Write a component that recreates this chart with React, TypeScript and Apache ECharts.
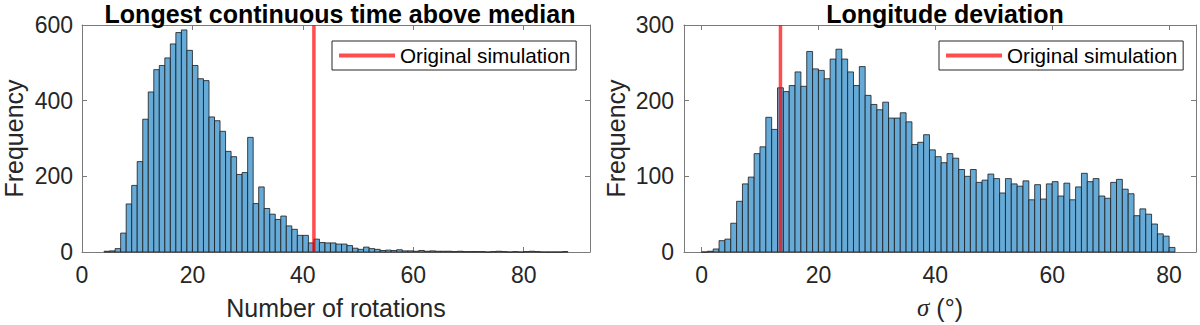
import React, { useEffect, useRef } from "react";
import * as echarts from "echarts";

// Left histogram: bins of width 1 starting at leftStart
const leftStart = 4;
const leftCounts = [
  2, 3, 9, 50, 127, 176, 239, 351, 423, 482, 493, 513, 550, 580, 587, 533, 493, 458, 453, 357,
  347, 319, 266, 252, 205, 210, 303, 128, 172, 115, 100, 86, 95, 69, 60, 44, 44, 24, 34, 25,
  24, 24, 21, 21, 17, 10, 7, 13, 9, 7, 4, 5, 4, 6, 3, 3, 2, 4, 2, 3,
  2, 2, 2, 1, 2, 1, 1, 1, 1, 0, 1, 2, 1, 0, 1, 0, 1, 2, 1, 0,
  0, 0, 0, 1,
];
const leftOriginal = 42;

// Right histogram: bins of width 1 starting at rightStart
const rightStart = 0;
const rightCounts = [
  0, 1, 4, 15, 17, 38, 67, 90, 99, 130, 139, 178, 162, 217, 212, 220, 238, 219, 265, 242,
  240, 229, 255, 268, 255, 238, 220, 245, 207, 195, 188, 198, 177, 177, 184, 172, 142, 145, 155, 135,
  126, 118, 130, 124, 109, 100, 109, 92, 95, 103, 97, 78, 97, 90, 87, 94, 69, 89, 70, 90,
  93, 74, 91, 69, 86, 104, 93, 97, 74, 71, 92, 96, 83, 77, 48, 57, 50, 37, 24, 21,
  6,
];
const rightOriginal = 13.5;

const xTicks = [0, 20, 40, 60, 80];
const leftTitle = "Longest continuous time above median";
const rightTitle = "Longitude deviation";
const legendName = "Original simulation";

const FONT = "'Liberation Sans', Arial, Helvetica, sans-serif";
const BAR_FILL = "#66AAD7";
const RED = "rgba(255,0,0,0.7)";
const AXIS_COLOR = "#7a7a7a";
const TEXT_COLOR = "#262626";

function binData(start: number, counts: number[]) {
  return counts.map((c, i) => [start + i, c]);
}

const renderBar = (params: any, api: any) => {
  const k = api.value(0);
  const v = api.value(1);
  const p0 = api.coord([k, v]);
  const p1 = api.coord([k + 1, 0]);
  return {
    type: "rect",
    shape: { x: p0[0], y: p0[1], width: p1[0] - p0[0], height: p1[1] - p0[1] },
    style: { fill: BAR_FILL, stroke: "#1a1a1a", lineWidth: 0.8 },
  };
};

function xAxes(gridIndex: number, min: number, max: number, name: string | null, rich?: any) {
  const common = {
    gridIndex,
    type: "value",
    min,
    max,
    splitLine: { show: false },
    axisLine: { show: true, onZero: false, lineStyle: { color: AXIS_COLOR, width: 1 } },
    axisTick: { show: true, inside: true, length: 5, customValues: xTicks, lineStyle: { color: AXIS_COLOR } },
  };
  return [
    {
      ...common,
      position: "bottom",
      name,
      nameLocation: "middle",
      nameGap: 43,
      nameTextStyle: { fontSize: 25, color: TEXT_COLOR, fontFamily: FONT, rich },
      axisLabel: { customValues: xTicks, fontSize: 23, color: TEXT_COLOR, margin: 11, fontFamily: FONT },
    },
    { ...common, position: "top", axisLabel: { show: false } },
  ];
}

function yAxes(gridIndex: number, max: number, interval: number, margin: number, nameGap: number) {
  const common = {
    gridIndex,
    type: "value",
    min: 0,
    max,
    interval,
    splitLine: { show: false },
    axisLine: { show: true, onZero: false, lineStyle: { color: AXIS_COLOR, width: 1 } },
    axisTick: { show: true, inside: true, length: 5, lineStyle: { color: AXIS_COLOR } },
  };
  return [
    {
      ...common,
      position: "left",
      name: "Frequency",
      nameLocation: "middle",
      nameGap,
      nameRotate: 90,
      nameTextStyle: { fontSize: 25, color: TEXT_COLOR, fontFamily: FONT },
      axisLabel: { fontSize: 23, color: TEXT_COLOR, margin, fontFamily: FONT },
    },
    { ...common, position: "right", axisLabel: { show: false } },
  ];
}

function legend(left: number) {
  return {
    left,
    top: 41,
    orient: "horizontal",
    data: [{ name: legendName, icon: "rect" }],
    itemWidth: 56,
    itemHeight: 4,
    padding: [4, 6, 4, 7],
    borderColor: "#262626",
    borderWidth: 1,
    backgroundColor: "#ffffff",
    textStyle: { fontSize: 20.7, color: "#000", fontFamily: FONT },
  };
}

export default function App() {
  const ref = useRef<HTMLDivElement>(null);
  useEffect(() => {
    if (!ref.current) return;
    const chart = echarts.init(ref.current, undefined, { renderer: "svg" });
    const option: any = {
      animation: false,
      textStyle: { fontFamily: FONT },
      title: [
        {
          text: leftTitle,
          left: 335,
          textAlign: "center",
          top: -4,
          textStyle: { fontSize: 25, fontWeight: "bold", color: "#000", fontFamily: FONT },
        },
        {
          text: rightTitle,
          left: 940,
          textAlign: "center",
          top: -4,
          textStyle: { fontSize: 25, fontWeight: "bold", color: "#000", fontFamily: FONT },
        },
      ],
      legend: [legend(332), legend(939)],
      grid: [
        { left: 78, top: 25, width: 512, height: 229 },
        { left: 684, top: 25, width: 512, height: 229 },
      ],
      xAxis: [
        ...xAxes(0, 0, 92, "Number of rotations"),
        ...xAxes(1, -3, 84.6, "{i|σ} (°)", {
          i: { fontStyle: "italic", fontSize: 25, color: TEXT_COLOR, fontFamily: "'Liberation Serif', serif" },
        }),
      ],
      yAxis: [...yAxes(0, 600, 200, 9, 56), ...yAxes(1, 300, 100, 10, 56)],
      series: [
        {
          type: "custom",
          xAxisIndex: 0,
          yAxisIndex: 0,
          renderItem: renderBar,
          data: binData(leftStart, leftCounts),
          encode: { x: 0, y: 1 },
          z: 2,
          silent: true,
        },
        {
          type: "custom",
          xAxisIndex: 2,
          yAxisIndex: 2,
          renderItem: renderBar,
          data: binData(rightStart, rightCounts),
          encode: { x: 0, y: 1 },
          z: 2,
          silent: true,
        },
        {
          type: "line",
          name: legendName,
          xAxisIndex: 0,
          yAxisIndex: 0,
          data: [
            [leftOriginal, 0],
            [leftOriginal, 600],
          ],
          symbol: "none",
          lineStyle: { color: RED, width: 3.5 },
          itemStyle: { color: RED },
          z: 5,
        },
        {
          type: "line",
          name: legendName,
          xAxisIndex: 2,
          yAxisIndex: 2,
          data: [
            [rightOriginal, 0],
            [rightOriginal, 300],
          ],
          symbol: "none",
          lineStyle: { color: RED, width: 3.5 },
          itemStyle: { color: RED },
          z: 5,
        },
      ],
    };
    chart.setOption(option);
    return () => chart.dispose();
  }, []);
  return (
    <div
      ref={ref}
      style={{ position: "absolute", left: 0, top: 0, width: 1200, height: 325, background: "#fff" }}
    />
  );
}
